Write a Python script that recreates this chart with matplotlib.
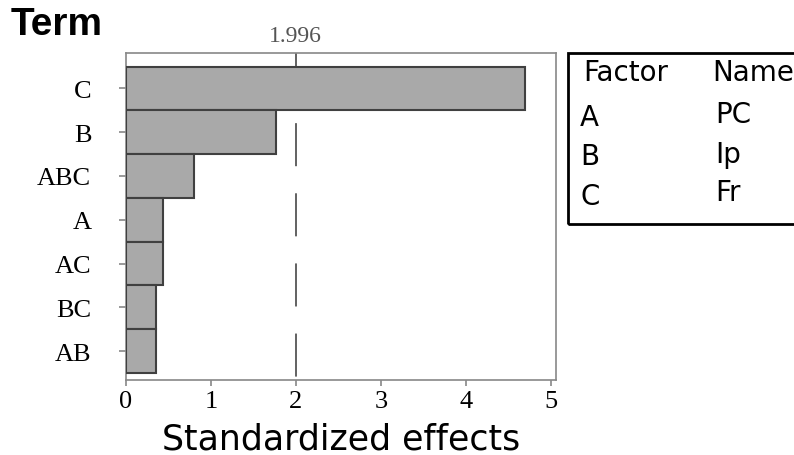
import matplotlib
matplotlib.use('Agg')
from matplotlib import pyplot as plt
from matplotlib.patches import Rectangle

# pareto of standardized effects, top bar first
terms = ['C', 'B', 'ABC', 'A', 'AC', 'BC', 'AB']
effects = [4.70, 1.76, 0.80, 0.43, 0.43, 0.35, 0.35]
crit = 1.996
factors = ['A', 'B', 'C']
names = ['PC', 'Ip', 'Fr']

plt.rcParams['lines.scale_dashes'] = False

fig = plt.figure(figsize=(7.94, 4.56), dpi=100)
ax = fig.add_axes([0.1587, 0.1645, 0.5416, 0.7171])

pos = list(range(len(terms)))[::-1]
ax.barh(pos, effects, height=1.0, color='#a9a9a9', edgecolor='#404040',
        linewidth=1.5, zorder=3)
ax.plot([crit, crit], [6.81, -0.66], color='#555555', lw=1.3,
        ls=(0, (31, 19.5)), zorder=2)

ax.set_xlim(0, 5.06)
ax.set_ylim(-0.66, 6.81)
ax.set_yticks(pos)
ax.set_yticklabels(terms, family='Liberation Serif', fontsize=19)
ax.set_xticks([0, 1, 2, 3, 4, 5])
ax.set_xticklabels(['0', '1', '2', '3', '4', '5'],
                   family='Liberation Serif', fontsize=19)
ax.tick_params(axis='y', length=5, width=1.2, color='#888888', pad=20)
ax.tick_params(axis='x', length=4, width=1.2, color='#888888', pad=3)
for s in ax.spines.values():
    s.set_color('#888888')
    s.set_linewidth(1.2)

ax.text(crit, 1.02, '%.3f' % crit, transform=ax.get_xaxis_transform(),
        ha='center', va='bottom', family='Liberation Serif', fontsize=17,
        color='#555555')
ax.set_xlabel('Standardized effects', family='DejaVu Sans', fontsize=25,
              labelpad=7)
fig.text(0.013, 0.945, 'Term', family='Liberation Sans', weight='bold',
         fontsize=28, ha='left', va='center')

# factor / name box on the right
fig.patches.append(Rectangle((0.7154, 0.5066), 0.4, 0.375,
                             transform=fig.transFigure, fill=False,
                             edgecolor='black', linewidth=2,
                             clip_on=False))
fig.text(583 / 794, 1 - 73 / 456, 'Factor', family='DejaVu Sans',
         fontsize=20, ha='left', va='center')
fig.text(712 / 794, 1 - 73 / 456, 'Name', family='DejaVu Sans',
         fontsize=20, ha='left', va='center')
rows_f = [118, 157, 197]
rows_n = [115, 155, 193]
for f, n, yf, yn in zip(factors, names, rows_f, rows_n):
    fig.text(580 / 794, 1 - yf / 456, f, family='DejaVu Sans', fontsize=20,
             ha='left', va='center')
    fig.text(715 / 794, 1 - yn / 456, n, family='DejaVu Sans', fontsize=20,
             ha='left', va='center')

fig.savefig('out.png', dpi=100)
